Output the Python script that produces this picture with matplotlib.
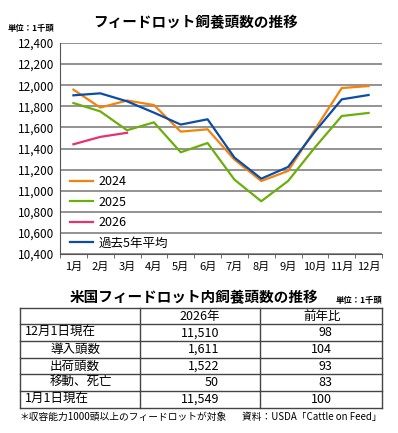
import matplotlib
matplotlib.use("Agg")
import matplotlib.pyplot as plt
import numpy as np

plt.rcParams['font.family'] = ['Noto Sans CJK JP', 'DejaVu Sans']

months = ["1月", "2月", "3月", "4月", "5月", "6月", "7月", "8月", "9月", "10月", "11月", "12月"]
y2024 = [11958, 11788, 11855, 11812, 11560, 11582, 11295, 11092, 11187, 11580, 11973, 11992]
y2025 = [11831, 11752, 11573, 11648, 11364, 11452, 11105, 10900, 11092, 11410, 11708, 11737]
y2026 = [11440, 11510, 11549]
avg5 = [11904, 11923, 11847, 11740, 11627, 11677, 11314, 11114, 11225, 11560, 11866, 11907]

series = [("2024", y2024, "#F5820A"),
          ("2025", y2025, "#6AAF0A"),
          ("2026", y2026, "#E6326E"),
          ("過去5年平均", avg5, "#0A4DA8")]

row_labels = ["12月1日現在", "導入頭数", "出荷頭数", "移動、死亡", "1月1日現在"]
row_indent = [False, True, True, True, False]
col_2026 = ["11,510", "1,611", "1,522", "50", "11,549"]
col_yoy = ["98", "104", "93", "83", "100"]

W, H = 398, 433
fig = plt.figure(figsize=(W / 100, H / 100), dpi=100)

def px(x, y):
    return x / W, 1 - y / H

# main chart
ax = fig.add_axes([60 / W, (H - 254) / H, 322 / W, 211 / H])
x = np.arange(12)
for name, vals, c in series:
    ax.plot(x[:len(vals)], vals, color=c, lw=1.6, label=name)
ax.set_xlim(-0.5, 11.5)
ax.set_ylim(10400, 12400)
ax.set_yticks(np.arange(10400, 12401, 200))
ax.set_yticklabels([f"{v:,}" for v in range(10400, 12401, 200)], fontsize=8.5)
ax.set_xticks(x)
ax.set_xticklabels(months, fontsize=8)
ax.set_xticks(np.arange(-0.5, 12, 1), minor=True)
ax.tick_params(axis='x', which='major', length=0, pad=6)
ax.tick_params(axis='x', which='minor', length=3, color='#555555')
ax.tick_params(axis='y', length=0, pad=4)
ax.grid(axis='y', color='#808080', lw=1.2)
ax.set_axisbelow(True)
for s in ['top', 'right']:
    ax.spines[s].set_visible(False)
ax.spines['left'].set_color('#555555')
ax.spines['bottom'].set_color('#555555')
ax.legend(loc='upper left', bbox_to_anchor=px(70, 175), bbox_transform=fig.transFigure,
          frameon=False, fontsize=9, handlelength=1.8, handletextpad=0.5,
          labelspacing=0.6, borderaxespad=0, borderpad=0)

fig.text(*px(195, 22), "フィードロット飼養頭数の推移", ha='center', va='center',
         fontsize=10.5, fontweight='bold')
fig.text(*px(8, 28), "単位：1千頭", ha='left', va='center', fontsize=6, fontweight='bold')

# table
fig.text(*px(194, 297), "米国フィードロット内飼養頭数の推移", ha='center', va='center',
         fontsize=10.5, fontweight='bold')
fig.text(*px(382, 300), "単位：1千頭", ha='right', va='center', fontsize=6, fontweight='bold')

tx = fig.add_axes([0, 0, 1, 1])
tx.set_xlim(0, W)
tx.set_ylim(H, 0)
tx.axis('off')
rows_y = [308.3, 324.3, 341, 357.7, 374.3, 391, 407.7]
for yy in rows_y:
    tx.plot([20, 382], [yy, yy], color='#444444', lw=1)
for xx in [20, 140, 260, 382]:
    tx.plot([xx, xx], [rows_y[0], rows_y[-1]], color='#444444', lw=1)

fs = 9
mid = (rows_y[0] + rows_y[1]) / 2
tx.text(200, mid, "2026年", ha='center', va='center', fontsize=fs)
tx.text(322, mid, "前年比", ha='center', va='center', fontsize=fs)
for i, (lab, ind, v1, v2) in enumerate(zip(row_labels, row_indent, col_2026, col_yoy)):
    yy = (rows_y[i + 1] + rows_y[i + 2]) / 2
    tx.text(50 if ind else 25, yy, lab, ha='left', va='center', fontsize=fs)
    tx.text(219, yy, v1, ha='right', va='center', fontsize=fs)
    tx.text(332, yy, v2, ha='right', va='center', fontsize=fs)

tx.text(20, 417, "＊収容能力1000頭以上のフィードロットが対象", ha='left', va='center', fontsize=7)
tx.text(382, 417, "資料：USDA「Cattle on Feed」", ha='right', va='center', fontsize=7)

fig.savefig("out.png", dpi=100)
